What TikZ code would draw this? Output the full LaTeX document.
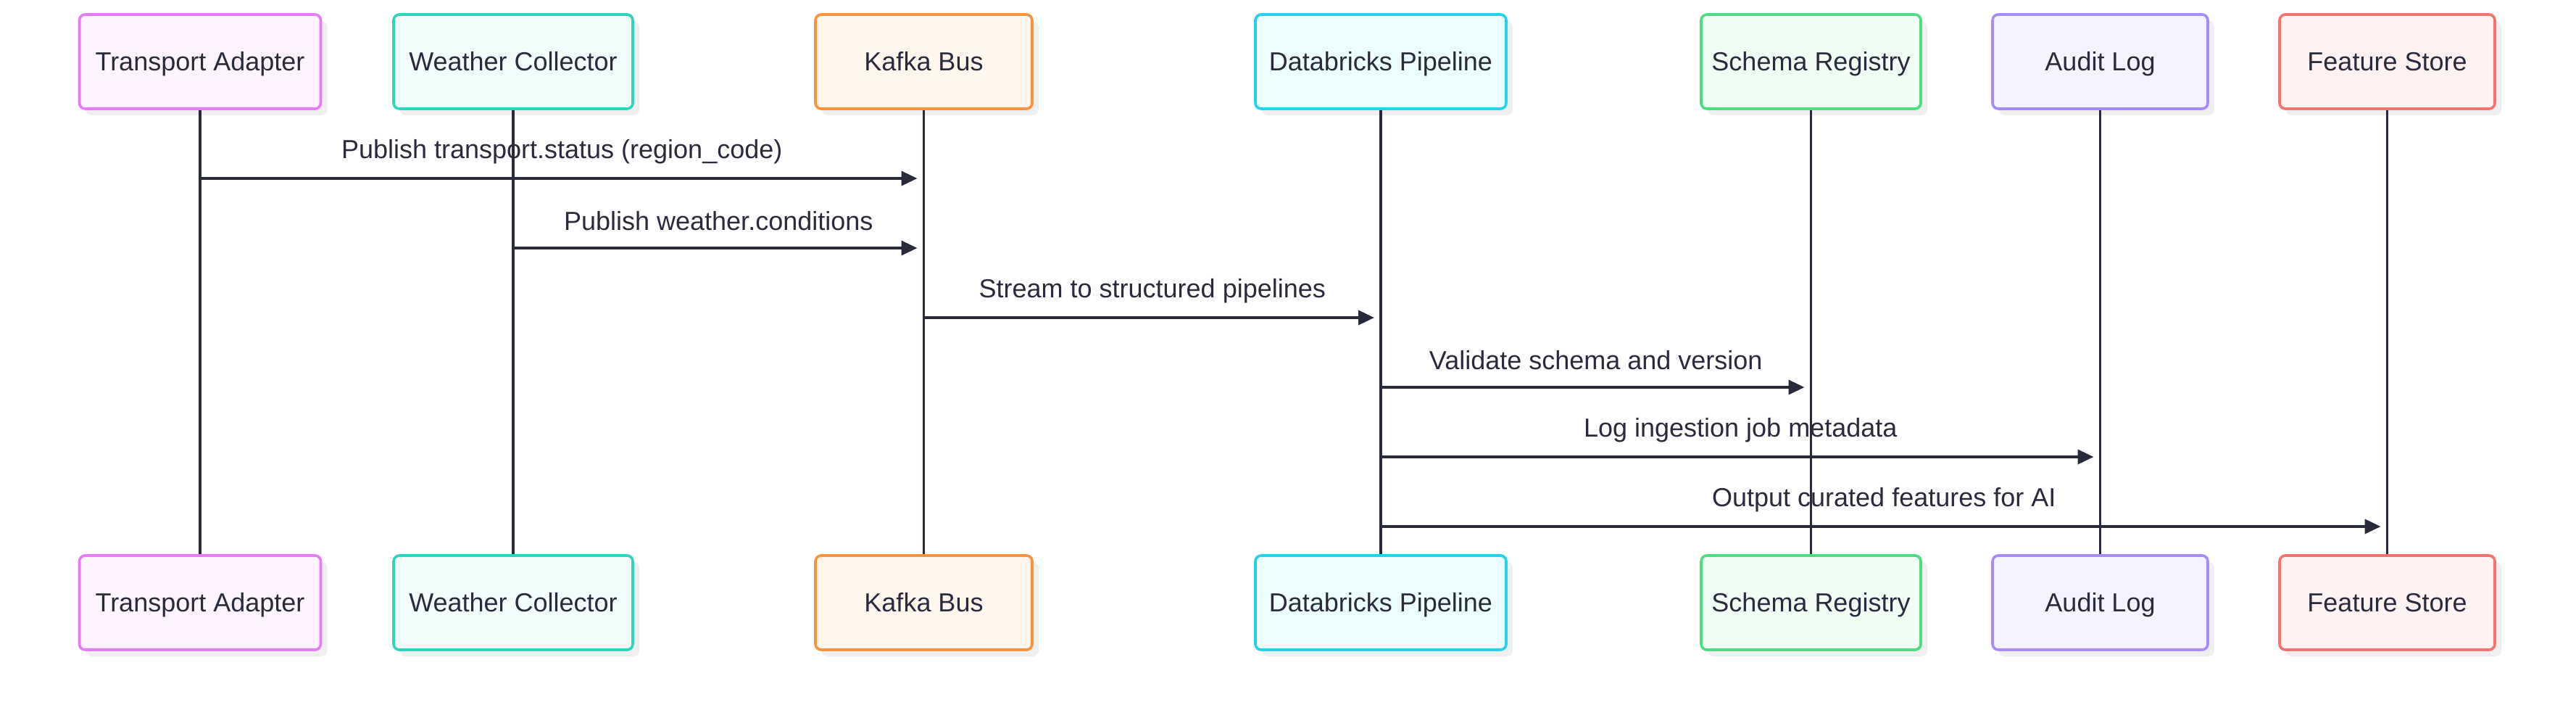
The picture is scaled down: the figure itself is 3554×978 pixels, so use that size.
\documentclass[tikz,border=0pt]{standalone}
\usepackage{fontspec}
\setmainfont{Liberation Sans}
\usetikzlibrary{arrows.meta,shadows}
\definecolor{ink}{HTML}{2A2A3D}
\definecolor{shade}{HTML}{EFEFEF}
\definecolor{transportline}{HTML}{E879F9}
\definecolor{transportfill}{HTML}{FDF4FF}
\definecolor{weatherline}{HTML}{2DD4BF}
\definecolor{weatherfill}{HTML}{F0FDFA}
\definecolor{kafkaline}{HTML}{FB923C}
\definecolor{kafkafill}{HTML}{FFF7ED}
\definecolor{databricksline}{HTML}{22D3EE}
\definecolor{databricksfill}{HTML}{ECFEFF}
\definecolor{schemaline}{HTML}{4ADE80}
\definecolor{schemafill}{HTML}{F0FDF4}
\definecolor{auditline}{HTML}{A78BFA}
\definecolor{auditfill}{HTML}{F5F3FF}
\definecolor{featureline}{HTML}{F87171}
\definecolor{featurefill}{HTML}{FEF2F2}

\begin{document}
\begin{tikzpicture}[x=0.25pt,y=-0.25pt,
	actor/.style={draw=#1line,fill=#1fill,rounded corners=2pt,line width=0.9pt,minimum height=32.5pt,text height=6.45pt,text depth=0pt,text=ink,font=\fontsize{9}{11}\selectfont,drop shadow={shadow xshift=2.25pt,shadow yshift=-2.25pt,fill=shade,opacity=1}},
	lifeline/.style={draw=ink,line width=0.85pt},
	msg/.style={draw=ink,line width=0.9pt,-{Triangle[length=5.5pt,width=5pt]},shorten >=2.25pt},
	lbl/.style={midway,yshift=9.25pt,text=ink,font=\fontsize{9}{11}\selectfont}]
	\useasboundingbox (0,0) rectangle (3554,978);

				\draw (276,85) node[actor=transport,minimum width=83.25pt] (transport) {Transport Adapter};
				\draw (708,85) node[actor=weather,minimum width=82.5pt] (weather) {Weather Collector};
				\draw (1274.5,85) node[actor=kafka,minimum width=74.75pt] (kafka) {Kafka Bus};
				\draw (1905,85) node[actor=databricks,minimum width=86.5pt] (databricks) {Databricks Pipeline};
				\draw (2498.5,85) node[actor=schema,minimum width=75.75pt] (schema) {Schema Registry};
				\draw (2897.5,85) node[actor=audit,minimum width=74.25pt] (audit) {Audit Log};
				\draw (3293.5,85) node[actor=feature,minimum width=74.25pt] (feature) {Feature Store};

				\draw (276,831) node[actor=transport,minimum width=83.25pt] (transportb) {Transport Adapter};
				\draw (708,831) node[actor=weather,minimum width=82.5pt] (weatherb) {Weather Collector};
				\draw (1274.5,831) node[actor=kafka,minimum width=74.75pt] (kafkab) {Kafka Bus};
				\draw (1905,831) node[actor=databricks,minimum width=86.5pt] (databricksb) {Databricks Pipeline};
				\draw (2498.5,831) node[actor=schema,minimum width=75.75pt] (schemab) {Schema Registry};
				\draw (2897.5,831) node[actor=audit,minimum width=74.25pt] (auditb) {Audit Log};
				\draw (3293.5,831) node[actor=feature,minimum width=74.25pt] (featureb) {Feature Store};

				\path[lifeline]
				(transport) edge (transportb)
				(weather) edge (weatherb)
				(kafka) edge (kafkab)
				(databricks) edge (databricksb)
				(schema) edge (schemab)
				(audit) edge (auditb)
				(feature) edge (featureb)
				;

				\path
				(transport |- 0,246) edge[msg] node[lbl] {Publish transport.status (region\_code)} (kafka |- 0,246)
				(weather |- 0,342) edge[msg] node[lbl] {Publish weather.conditions} (kafka |- 0,342)
				(kafka |- 0,438) edge[msg] node[lbl] {Stream to structured pipelines} (databricks |- 0,438)
				(databricks |- 0,534) edge[msg] node[lbl] {Validate schema and version} (schema |- 0,534)
				(databricks |- 0,630) edge[msg] node[lbl] {Log ingestion job metadata} (audit |- 0,630)
				(databricks |- 0,726) edge[msg] node[lbl] {Output curated features for AI} (feature |- 0,726)
				;
			\end{tikzpicture}
\end{document}
